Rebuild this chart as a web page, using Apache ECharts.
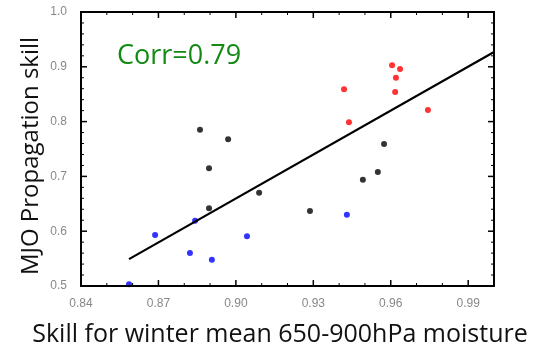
<!DOCTYPE html>
<html><head><meta charset="utf-8">
<script src="https://cdn.jsdelivr.net/npm/echarts@6/dist/echarts.min.js"></script>
<style>html,body{margin:0;padding:0;background:#fff}#c{width:537px;height:349px;background:#fff}</style>
</head><body><div id="c"></div>
<script>
// Data
const blackX = [0.8861, 0.8970, 0.8896, 0.8896, 0.9090, 0.9287, 0.9492, 0.9550, 0.9574];
const blackY = [0.785, 0.768, 0.715, 0.642, 0.670, 0.637, 0.694, 0.708, 0.759];
const redX = [0.9605, 0.9636, 0.9620, 0.9617, 0.9419, 0.9438, 0.9744];
const redY = [0.903, 0.896, 0.880, 0.854, 0.859, 0.799, 0.821];
const blueX = [0.8586, 0.8687, 0.8842, 0.8822, 0.8907, 0.9043, 0.9430];
const blueY = [0.503, 0.593, 0.619, 0.560, 0.548, 0.591, 0.630];
const fitX = [0.8586, 1.00];
const fitY = [0.549, 0.927];
const corrText = "Corr=0.79";
const xTitle = "Skill for winter mean 650-900hPa moisture";
const yTitle = "MJO Propagation skill";

// Axis ranges
const X_MIN = 0.84, X_MAX = 1.00, X_STEP = 0.03, X_MINOR = 0.01;
const Y_MIN = 0.5, Y_MAX = 1.0, Y_STEP = 0.1, Y_MINOR = 0.02;

const zip = (a, b) => a.map((v, i) => [v, b[i]]);
// tick values (data units) for the frame drawn through the axes' scales
const xTicks = [], yTicks = [];
for (let i = 1; i < 16; i++) xTicks.push({v: X_MIN + X_MINOR * i, major: i % 3 === 0});
for (let i = 1; i < 25; i++) yTicks.push({v: Y_MIN + Y_MINOR * i, major: i % 5 === 0});

const chart = echarts.init(document.getElementById('c'));
function ax(isX) {
  return {
    type: 'value', position: isX ? 'bottom' : 'left',
    min: isX ? X_MIN : Y_MIN, max: isX ? X_MAX : Y_MAX, interval: isX ? X_STEP : Y_STEP,
    axisLine: {show: false, onZero: false},
    axisTick: {show: false},
    minorTick: {show: false},
    splitLine: {show: false},
    axisLabel: {color: '#888', fontSize: 12, margin: isX ? 12 : 14,
      formatter: v => isX ? (v > 0.995 ? '' : v.toFixed(2)) : v.toFixed(1)}
  };
}
function seg(x1, y1, x2, y2, w) {
  return {type: 'line', shape: {x1: x1, y1: y1, x2: x2, y2: y2}, style: {stroke: '#000', lineWidth: w}};
}
function renderFrame(params, api) {
  const tl = api.coord([X_MIN, Y_MAX]);
  const br = api.coord([X_MAX, Y_MIN]);
  const children = [{type: 'rect', shape: {x: tl[0], y: tl[1], width: br[0] - tl[0], height: br[1] - tl[1]},
    style: {fill: 'none', stroke: '#000', lineWidth: 2}}];
  xTicks.forEach(t => {
    const px = api.coord([t.v, Y_MIN])[0];
    const L = t.major ? 6 : 3, w = t.major ? 1.5 : 1;
    children.push(seg(px, br[1], px, br[1] - L, w));
    children.push(seg(px, tl[1], px, tl[1] + L, w));
  });
  yTicks.forEach(t => {
    const py = api.coord([X_MIN, t.v])[1];
    const L = t.major ? 6 : 3, w = t.major ? 1.5 : 1;
    children.push(seg(tl[0], py, tl[0] + L, py, w));
    children.push(seg(br[0], py, br[0] - L, py, w));
  });
  return {type: 'group', children: children};
}
chart.setOption({
  animation: false,
  grid: {left: 81, right: 43, top: 12, bottom: 63},
  xAxis: ax(true),
  yAxis: ax(false),
  graphic: [
    {type: 'text', x: 117, y: 56, style: {text: corrText, fill: '#138a13', font: '27px "Open Sans"', align: 'left', verticalAlign: 'middle'}},
    {type: 'text', x: 280, y: 335, style: {text: xTitle, fill: '#111', font: '25px "Open Sans"', align: 'center', verticalAlign: 'middle'}},
    {type: 'text', x: 31, y: 156, rotation: Math.PI / 2, style: {text: yTitle, fill: '#111', font: '24px "Open Sans"', align: 'center', verticalAlign: 'middle'}}
  ],
  series: [
    {type: 'custom', data: [[X_MIN, Y_MIN]], renderItem: renderFrame, clip: false, silent: true, z: 3},
    {type: 'scatter', data: zip(blackX, blackY), symbolSize: 6, itemStyle: {color: '#000'},
      markLine: {silent: true, symbol: ['none', 'none'], label: {show: false},
        lineStyle: {color: '#000', width: 2.2, type: 'solid'},
        data: [[{coord: [fitX[0], fitY[0]]}, {coord: [fitX[1], fitY[1]]}]]}},
    {type: 'scatter', data: zip(redX, redY), symbolSize: 6, itemStyle: {color: '#ff0000'}},
    {type: 'scatter', data: zip(blueX, blueY), symbolSize: 6, itemStyle: {color: '#0000ff'}}
  ]
});
</script></body></html>
